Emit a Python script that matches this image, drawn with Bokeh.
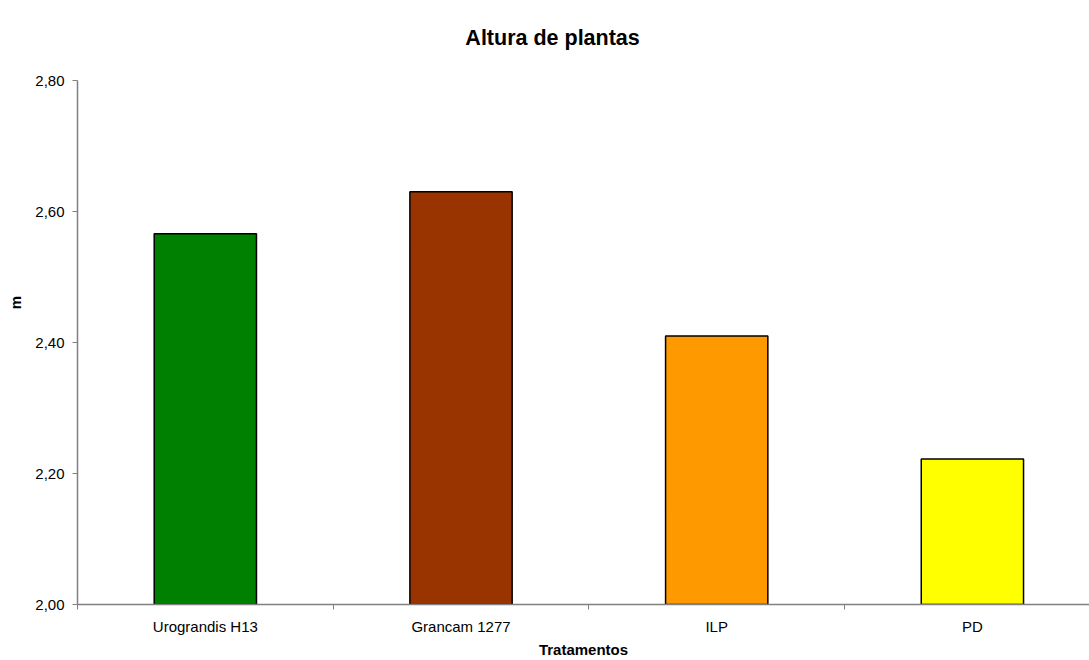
from bokeh.plotting import figure
from bokeh.models import Range1d, FixedTicker, Label, ColumnDataSource
from bokeh.embed import file_html
from bokeh.resources import INLINE
import numpy as np

# Plant height per treatment (m)
tratamentos = ["Urograndis H13", "Grancam 1277", "ILP", "PD"]
alturas = [2.566, 2.630, 2.410, 2.222]
cores = ["#008000", "#993300", "#FF9900", "#FFFF00"]

y_ticks = [2.0, 2.2, 2.4, 2.6, 2.8]
y_labels = ["2,00", "2,20", "2,40", "2,60", "2,80"]

FONT = "Liberation Sans"
AXIS_GREY = "#808080"

# the frame runs to the top of the canvas so the title can sit inside it;
# the value axis itself only spans 2,00 - 2,80
Y_MIN, Y_MAX = 2.0, 2.8
PX_PER_UNIT = 524 / (Y_MAX - Y_MIN)
FRAME_H = 604
y_top = Y_MIN + FRAME_H / PX_PER_UNIT

pos = np.arange(len(tratamentos)) + 0.5
src = ColumnDataSource(dict(x=pos, top=alturas, cor=cores))

p = figure(
    width=1089, height=660,
    x_range=Range1d(0, 3.958), y_range=Range1d(Y_MIN, y_top),
    output_backend="svg", toolbar_location=None, tools="",
    min_border_left=77, min_border_right=0,
    min_border_top=0, min_border_bottom=56,
)
p.outline_line_color = None
p.background_fill_color = "white"
p.border_fill_color = "white"
p.xgrid.visible = False
p.ygrid.visible = False

p.vbar(x="x", top="top", bottom=Y_MIN, width=0.4, source=src,
       fill_color="cor", line_color="black", line_width=1.5)

# chart title
titulo = Label(text="Altura de plantas",
               x=1.858, y=Y_MIN + (FRAME_H - 37) / PX_PER_UNIT,
               text_align="center", text_baseline="alphabetic",
               text_font=FONT, text_font_size="21.5px", text_font_style="bold",
               text_color="black")
p.add_layout(titulo)

# x axis: category labels centred, ticks between categories
xa = p.below[0]
xa.ticker = FixedTicker(ticks=list(pos), minor_ticks=list(range(len(tratamentos) + 1)))
xa.major_label_overrides = {float(v): name for v, name in zip(pos, tratamentos)}
xa.major_tick_out = 0
xa.major_tick_in = 0
xa.minor_tick_out = 5
xa.minor_tick_in = 0
xa.minor_tick_line_color = AXIS_GREY
xa.axis_line_color = AXIS_GREY
xa.axis_line_width = 1.5
xa.major_label_standoff = 8
xa.major_label_text_font = FONT
xa.major_label_text_font_size = "15px"
xa.major_label_text_color = "black"
xa.axis_label = "Tratamentos"
xa.axis_label_text_font = FONT
xa.axis_label_text_font_size = "15px"
xa.axis_label_text_font_style = "bold"
xa.axis_label_text_color = "black"
xa.axis_label_standoff = 3

# y axis
ya = p.left[0]
ya.bounds = (Y_MIN, Y_MAX)
ya.ticker = FixedTicker(ticks=y_ticks, minor_ticks=[])
ya.major_label_overrides = {v: s for v, s in zip(y_ticks, y_labels)}
ya.major_tick_out = 5
ya.major_tick_in = 0
ya.major_tick_line_color = AXIS_GREY
ya.axis_line_color = AXIS_GREY
ya.axis_line_width = 1.5
ya.major_label_standoff = 8
ya.major_label_text_font = FONT
ya.major_label_text_font_size = "15px"
ya.major_label_text_color = "black"
ya.axis_label = "m"
ya.axis_label_text_font = FONT
ya.axis_label_text_font_size = "15px"
ya.axis_label_text_font_style = "bold"
ya.axis_label_text_color = "black"
ya.axis_label_standoff = 8

open("out.html", "w").write(file_html(p, INLINE))
